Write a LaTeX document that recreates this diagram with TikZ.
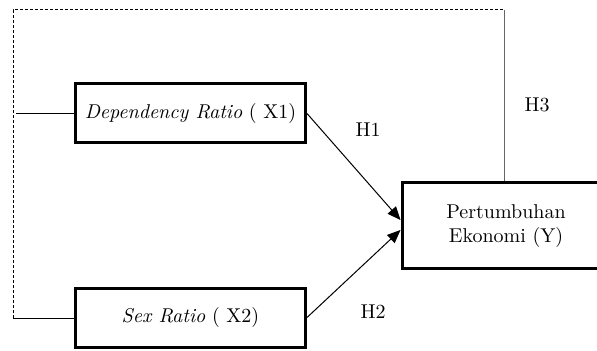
\documentclass[tikz,border=0pt]{standalone}
\usepackage{tikz}
\usetikzlibrary{arrows,positioning}
\tikzstyle{edge}=[
	-,
	draw=black,
	line width=0.5pt
]
\tikzstyle{varbox}=[
	draw=black,
	line width=1.5pt,
	minimum width=115pt,
	minimum height=29.5pt,
	inner sep=1mm
]
\tikzstyle{hyp}=[
	inner sep=0mm
]

\begin{document}
\begin{tikzpicture}[x=0.5pt, y=-0.5pt]
\useasboundingbox (0,0) rectangle (597,351);

\node[varbox] at (190.5,113.5) (x1) {\textit{Dependency Ratio} ( X1)};
\node[varbox] at (190.5,317.5) (x2) {\textit{Sex Ratio} ( X2)};
\node[varbox, minimum width=104pt, minimum height=43pt, text width=80pt, align=center] at (506,226) (y) {Pertumbuhan\\Ekonomi (Y)};

\coordinate (low) at (13,318);
\coordinate (top) at (13,10);
\coordinate (turn) at (504,10);
\coordinate (hub) at (16,113.5);

\draw[edge, dash pattern=on 1.5pt off 1pt] (low) -- (top) -- (turn);
\draw[edge, black!60] (turn) -- (y.north -| turn);
\draw[edge] (low) -- (low -| x2.west);
\draw[edge] (hub) -- (x1.west);

\draw[edge, -triangle 45] (x1.east) -- ([yshift=3pt]y.west);
\draw[edge, -triangle 45] (x2.east) -- ([yshift=-2pt]y.west);

\node[hyp] at (368,130) (h1) {H1};
\node[hyp] at (373,312) (h2) {H2};
\node[hyp] at (537,105) (h3) {H3};
\end{tikzpicture}
\end{document}
